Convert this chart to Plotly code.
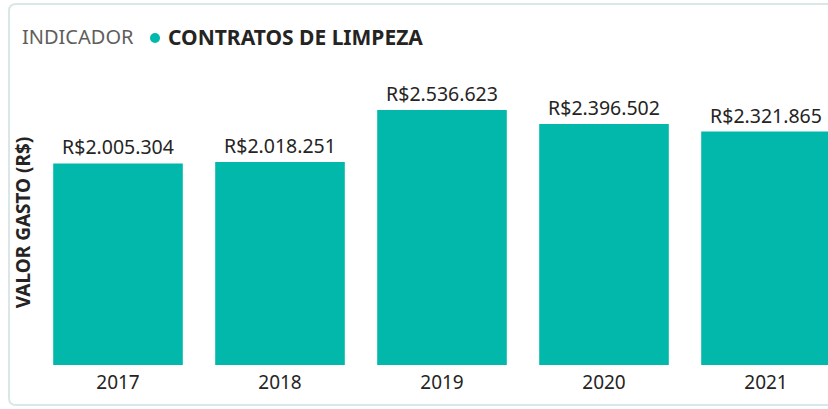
import plotly.graph_objects as go

anos = ["2017", "2018", "2019", "2020", "2021"]
valores = [2005304, 2018251, 2536623, 2396502, 2321865]
rotulos = ["R$2.005.304", "R$2.018.251", "R$2.536.623", "R$2.396.502", "R$2.321.865"]
serie = "CONTRATOS DE LIMPEZA"
titulo_legenda = "INDICADOR"
titulo_y = "VALOR GASTO (R$)"

COR = "#01B8AA"
W, H = 828, 409
ML, MR, MT, MB = 37, 0, 80, 44
PW, PH = W - ML - MR, H - MT - MB

def px_x(x):
    return (x - ML) / PW

def px_y(y):
    return (H - MB - y) / PH

fig = go.Figure()
fig.add_trace(go.Bar(
    x=anos, y=valores, text=rotulos, textposition="outside",
    textfont=dict(size=19.5, color="#252423", family="Noto Sans"),
    marker=dict(color=COR, line=dict(width=0)),
    cliponaxis=False, showlegend=False, name=serie,
))

# card border with rounded corners
x0, x1 = px_x(9), px_x(900)
y0, y1 = px_y(405), px_y(4)
rx, ry = 7 / PW, 7 / PH
path = (f"M {x0+rx},{y1} L {x1},{y1} L {x1},{y0} L {x0+rx},{y0} "
        f"Q {x0},{y0} {x0},{y0+ry} L {x0},{y1-ry} Q {x0},{y1} {x0+rx},{y1} Z")
fig.add_shape(type="path", path=path, xref="paper", yref="paper",
              line=dict(color="#d9e8e6", width=2), layer="below")

# legend (Power BI style): title, dot, series name
LEG_Y = 37
fig.add_annotation(text=titulo_legenda, xref="paper", yref="paper",
                   x=px_x(20), y=px_y(LEG_Y), xanchor="left", yanchor="middle",
                   showarrow=False, font=dict(size=20, color="#605E5C"))
fig.add_shape(type="circle", xref="paper", yref="paper",
              x0=px_x(150), x1=px_x(160), y0=px_y(LEG_Y + 6), y1=px_y(LEG_Y - 4),
              fillcolor=COR, line=dict(width=0))
fig.add_annotation(text=f"<b>{serie}</b>", xref="paper", yref="paper",
                   x=px_x(166), y=px_y(LEG_Y), xanchor="left", yanchor="middle",
                   showarrow=False, font=dict(size=21, color="#252423"))

fig.update_layout(
    width=W, height=H,
    margin=dict(l=ML, r=MR, t=MT, b=MB),
    paper_bgcolor="white", plot_bgcolor="white",
    bargap=0.2, showlegend=False,
    font=dict(family="Noto Sans", color="#252423"),
    xaxis=dict(
        range=[-0.5, 4.5 - (810 - PW) / 162], showgrid=False, zeroline=False,
        showline=False, ticks="", tickfont=dict(size=19, color="#252423"),
        ticklabelstandoff=4, fixedrange=True,
    ),
    yaxis=dict(
        range=[0, PH / (255 / 2536623)], showgrid=False, zeroline=False,
        showline=False, showticklabels=False, ticks="", fixedrange=True,
        title=dict(text=titulo_y, standoff=0,
                   font=dict(size=19, color="#252423", weight="bold")),
    ),
)

fig.write_html("out.html", config={"displayModeBar": False},
               post_script="document.body.style.margin='0';document.body.style.overflow='hidden';")
